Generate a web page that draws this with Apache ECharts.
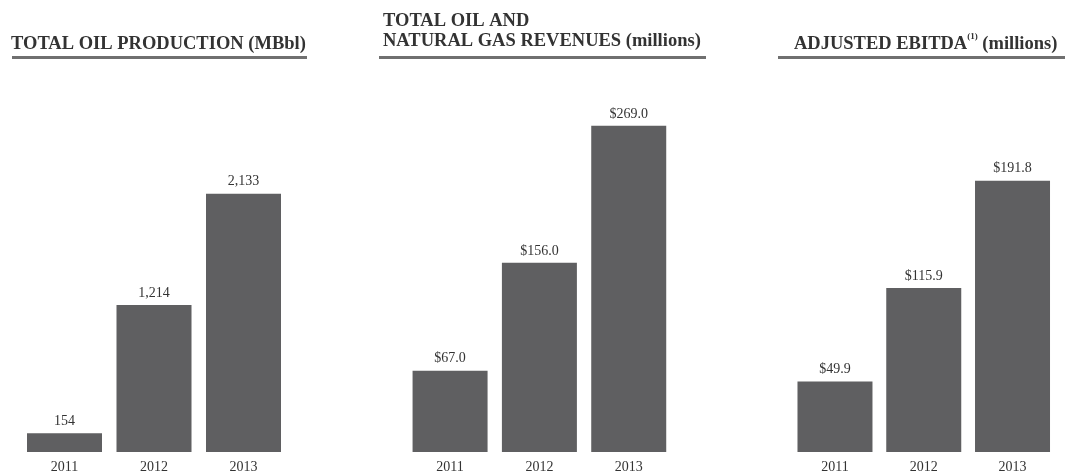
<!DOCTYPE html>
<html>
<head>
<meta charset="utf-8">
<script src="https://cdn.jsdelivr.net/npm/echarts@6/dist/echarts.min.js"></script>
<style>html,body{margin:0;padding:0;background:#fff}#c{width:1065px;height:474px}</style>
</head>
<body>
<div id="c"></div>
<script>
var years = ['2011', '2012', '2013'];
var oilProduction = [154, 1214, 2133];
var revenues = [67.0, 156.0, 269.0];
var ebitda = [49.9, 115.9, 191.8];

var FONT = '"Liberation Serif", "DejaVu Serif", serif';
var BAR = '#5f5f61';
var TXT = '#333333';

var chart = echarts.init(document.getElementById('c'));

function fmtNum(v) { return v.toLocaleString('en-US'); }
function fmtMoney(v) { return '$' + v.toFixed(1); }

var grids = [
  { left: 19.75, width: 268.5, top: 80, bottom: 21 },
  { left: 405.4, width: 268, top: 80, bottom: 21 },
  { left: 790.6, width: 266.3, top: 80, bottom: 21 }
];
var maxes = [3072, 306.8, 263];
var datas = [oilProduction, revenues, ebitda];
var fmts = [fmtNum, fmtMoney, fmtMoney];

var xAxis = [], yAxis = [], series = [];
for (var i = 0; i < 3; i++) {
  xAxis.push({
    type: 'category', gridIndex: i, data: years,
    axisLine: { show: false }, axisTick: { show: false },
    axisLabel: { margin: 8, fontFamily: FONT, fontSize: 14, color: TXT }
  });
  yAxis.push({
    type: 'value', gridIndex: i, min: 0, max: maxes[i], show: false,
    splitLine: { show: false }
  });
  (function (f) {
    series.push({
      type: 'bar', xAxisIndex: i, yAxisIndex: i, data: datas[i],
      barWidth: 75, itemStyle: { color: BAR },
      label: {
        show: true, position: 'top', distance: 5,
        fontFamily: FONT, fontSize: 14, color: TXT,
        formatter: function (p) { return f(p.value); }
      },
      silent: true, animation: false
    });
  })(fmts[i]);
}

function titleStyle(lh) {
  return {
    fontFamily: FONT, fontSize: 18.5, fontWeight: 'bold', color: TXT, lineHeight: lh,
    rich: {
      b: { fontFamily: FONT, fontSize: 18.5, fontWeight: 'bold', color: TXT, lineHeight: lh },
      sup: { fontFamily: FONT, fontSize: 9, fontWeight: 'bold', color: TXT, verticalAlign: 'top', lineHeight: lh, padding: [0, 0, 9, 0] }
    }
  };
}

var option = {
  backgroundColor: '#ffffff',
  animation: false,
  title: [
    { text: 'TOTAL OIL PRODUCTION (MBbl)', left: 11, top: 32, padding: 0, textStyle: titleStyle(24) },
    { text: 'TOTAL OIL AND\nNATURAL GAS REVENUES (millions)', left: 383, top: 11, padding: 0, textStyle: titleStyle(20) },
    { text: '{b|ADJUSTED EBITDA}{sup|(1)}{b| (millions)}', left: 794, top: 32, padding: 0, textStyle: titleStyle(24) }
  ],
  graphic: [
    { type: 'rect', shape: { x: 12, y: 56, width: 295, height: 3 }, style: { fill: '#707070' }, silent: true },
    { type: 'rect', shape: { x: 379, y: 56, width: 327, height: 3 }, style: { fill: '#707070' }, silent: true },
    { type: 'rect', shape: { x: 778, y: 56, width: 287, height: 3 }, style: { fill: '#707070' }, silent: true }
  ],
  grid: grids,
  xAxis: xAxis,
  yAxis: yAxis,
  series: series
};
chart.setOption(option);
</script>
</body>
</html>
